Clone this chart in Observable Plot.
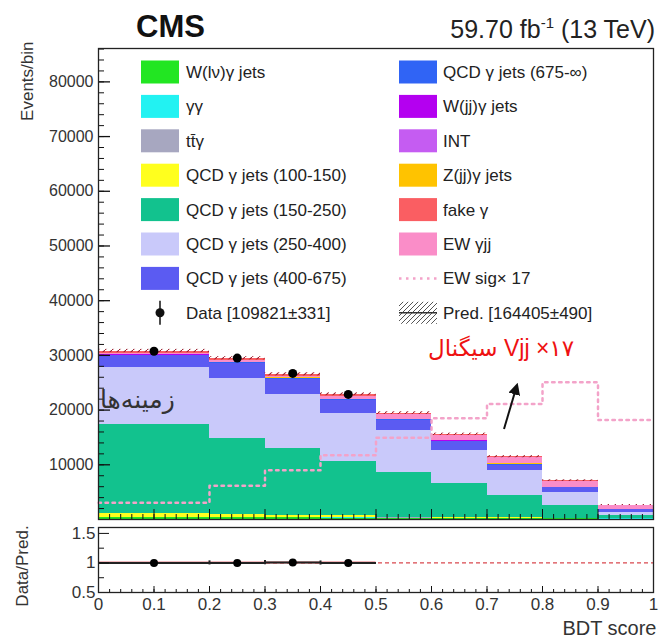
<!DOCTYPE html>
<html><head><meta charset="utf-8">
<script src="https://cdn.jsdelivr.net/npm/d3@7"></script>
<script src="https://cdn.jsdelivr.net/npm/@observablehq/plot@0.6"></script>
<style>
body{margin:0;background:#fff;}
#wrap{position:relative;width:659px;height:643px;overflow:hidden;background:#fff;}
#wrap > svg, #wrap > figure{position:absolute;left:0;margin:0;}
</style></head><body><div id="wrap"></div>
<script>
// ---------- data ----------
const binEdges = [0, 0.2, 0.3, 0.4, 0.5, 0.6, 0.7, 0.8, 0.9, 1.0];
const wlnu   = [350, 300, 280, 250, 230, 200, 170, 130, 80];
const gg     = [40, 40, 40, 30, 30, 30, 30, 20, 100];
const ttg    = [50, 50, 45, 40, 35, 30, 25, 20, 15];
const qcd100 = [600, 550, 450, 400, 120, 100, 80, 60, 30];
const qcd150 = [16240, 13900, 12075, 9920, 8145, 6260, 4045, 2290, 450];
const qcd250 = [10470, 10850, 10050, 8770, 7800, 5960, 4520, 2380, 600];
const qcd400 = [2140, 2860, 2690, 2310, 1700, 1640, 1090, 860, 500];
const qcd675 = [150, 150, 150, 150, 150, 130, 120, 100, 80];
const wjj    = [40, 40, 40, 40, 40, 30, 30, 20, 10];
const intf   = [20, 20, 20, 20, 20, 20, 20, 20, 10];
const zjj    = [30, 30, 30, 30, 30, 20, 20, 20, 10];
const ewk    = [170, 260, 340, 610, 850, 900, 1130, 1100, 700];
const fake   = [500, 420, 330, 320, 300, 250, 200, 80, 60];
const predErr = [300, 290, 280, 260, 240, 220, 190, 150, 90];
const sigX17 = [3070, 6180, 9000, 11740, 14960, 18500, 21100, 25080, 18190];
const dataX = [0.1, 0.25, 0.35, 0.45];
const dataY = [30750, 29500, 26700, 22870];
const dataBin = [0, 1, 2, 3];
const yTicks = [10000, 20000, 30000, 40000, 50000, 60000, 70000, 80000];
const ratioTicks = [0.5, 1, 1.5];

const names = ["W(lν)γ jets", "γγ", "tt\u0304γ", "QCD γ jets (100-150)", "QCD γ jets (150-250)",
  "QCD γ jets (250-400)", "QCD γ jets (400-675)", "QCD γ jets (675-∞)", "W(jj)γ jets", "INT",
  "Z(jj)γ jets", "EW γjj", "fake γ"];
const colors = ["#22e622", "#22f2f2", "#a7a7c0", "#ffff1e", "#12c28e", "#c9c9fa", "#5b5bf2",
  "#3064f5", "#b400f0", "#c55cf2", "#ffc300", "#fa8dc8", "#fa5e62"];
const values = [wlnu, gg, ttg, qcd100, qcd150, qcd250, qcd400, qcd675, wjj, intf, zjj, ewk, fake];

// ---------- tables ----------
const stackRows = [];
names.forEach((n, k) => values[k].forEach((v, i) =>
  stackRows.push({series: n, x1: binEdges[i], x2: binEdges[i + 1], v})));
const totRows = binEdges.slice(0, -1).map((x1, i) => ({
  x1, x2: binEdges[i + 1], t: d3.sum(values, arr => arr[i]), e: predErr[i]}));
const sigSteps = sigX17.map((y, i) => ({x: binEdges[i], y})).concat([{x: 1, y: sigX17[sigX17.length - 1]}]);
const dataRows = dataX.map((x, i) => ({x, y: dataY[i], b: dataBin[i],
  x1: binEdges[dataBin[i]], x2: binEdges[dataBin[i] + 1],
  r: dataY[i] / totRows[dataBin[i]].t, re: predErr[dataBin[i]] / totRows[dataBin[i]].t}));

const W = 659, font = "'Liberation Sans', Arial, sans-serif";
const mL = 98, mR = 6;
const plotW = W - mL - mR;
const mainH = 524, mT = 48, mB = 5;
const plotH = mainH - mT - mB;

const main = Plot.plot({
  width: W, height: mainH, marginTop: mT, marginBottom: mB, marginLeft: mL, marginRight: mR,
  x: {domain: [0, 1], axis: null}, y: {domain: [0, 86100]},
  color: {domain: names, range: colors},
  style: {fontFamily: font, fontSize: "16px", color: "#333", background: "transparent"},
  marks: [
    Plot.rectY(stackRows, {x1: "x1", x2: "x2", y: "v", fill: "series", z: "series", order: names, shapeRendering: "crispEdges"}),
    Plot.rect(totRows, {x1: "x1", x2: "x2", y1: d => d.t - d.e, y2: d => d.t + d.e, fill: "url(#hatchRed)"}),
    Plot.line(sigSteps, {x: "x", y: "y", curve: "step-after", stroke: "#f3a3c9", strokeWidth: 2.5, strokeDasharray: "2.5,4.5"}),
    Plot.ruleX(dataRows, {x: "x", y1: d => d.y - Math.sqrt(d.y), y2: d => d.y + Math.sqrt(d.y), stroke: "black", strokeWidth: 1.5}),
    Plot.dot(dataRows, {x: "x", y: "y", r: 4.5, fill: "black"}),
    Plot.gridY({ticks: d3.range(0, 86001, 2000), stroke: "#111", strokeOpacity: 1, insetRight: plotW - 6}),
    Plot.gridY({ticks: yTicks, stroke: "#111", strokeOpacity: 1, strokeWidth: 1.3, insetRight: plotW - 12}),
    Plot.gridX({ticks: d3.range(0, 1.0001, 0.02), stroke: "#111", strokeOpacity: 1, insetTop: plotH - 5}),
    Plot.gridX({ticks: d3.range(0, 1.0001, 0.1), stroke: "#111", strokeOpacity: 1, insetTop: plotH - 10}),
    Plot.axisY({ticks: yTicks, tickSize: 0, tickPadding: 5, tickFormat: d3.format("d"), label: null, fontSize: 16}),
    Plot.frame({stroke: "#222", strokeWidth: 1.3}),
    Plot.text(["Events/bin"], {text: d => d, frameAnchor: "top-left", rotate: -90, textAnchor: "end", dx: -78, dy: -7, fontSize: 17, fill: "#333"})
  ]
});

const rH = 119, rT = 3, rB = 51;
const rPlotH = rH - rT - rB;
const ratio = Plot.plot({
  width: W, height: rH, marginTop: rT, marginBottom: rB, marginLeft: mL, marginRight: mR,
  x: {domain: [0, 1]}, y: {domain: [0.5, 1.6]},
  style: {fontFamily: font, fontSize: "17px", color: "#333", background: "transparent"},
  marks: [
    Plot.ruleY([1], {stroke: "#d9484f", strokeDasharray: "4,3", strokeWidth: 1.3}),
    Plot.rect(dataRows, {x1: "x1", x2: "x2", y1: d => 1 - d.re - 0.012, y2: d => 1 + d.re + 0.012, fill: "#d9484f", fillOpacity: 0.45}),
    Plot.link(dataRows, {x1: "x1", x2: "x2", y1: "r", y2: "r", stroke: "#222", strokeWidth: 2}),
    Plot.ruleX(dataRows.slice(1), {x: "x1", y1: d => d.r - 0.035, y2: d => d.r + 0.035, stroke: "#222", strokeWidth: 2}),
    Plot.dot(dataRows, {x: "x", y: "r", r: 4, fill: "black"}),
    Plot.gridY({ticks: [0.75, 1.25], stroke: "#111", strokeOpacity: 1, insetRight: plotW - 6}),
    Plot.gridY({ticks: ratioTicks, stroke: "#111", strokeOpacity: 1, insetRight: plotW - 11}),
    Plot.gridX({ticks: d3.range(0, 1.0001, 0.02), stroke: "#111", strokeOpacity: 1, insetTop: rPlotH - 3}),
    Plot.gridX({ticks: d3.range(0, 1.0001, 0.1), stroke: "#111", strokeOpacity: 1, insetTop: rPlotH - 6}),
    Plot.axisY({ticks: ratioTicks, tickSize: 0, tickPadding: 3, tickFormat: d => String(d), label: null, fontSize: 17}),
    Plot.axisX({ticks: d3.range(0, 1.0001, 0.1), tickSize: 0, tickPadding: 5, tickFormat: d => String(+d.toFixed(1)), label: null, fontSize: 17}),
    Plot.frame({stroke: "#222", strokeWidth: 1.3}),
    Plot.text(["Data/Pred."], {text: d => d, frameAnchor: "left", rotate: -90, textAnchor: "middle", dx: -76, dy: 6, fontSize: 17, fill: "#333"}),
    Plot.text(["BDT score"], {text: d => d, frameAnchor: "bottom-right", textAnchor: "end", dx: 3, dy: 42, fontSize: 20, fill: "#333"})
  ]
});

const wrap = document.getElementById("wrap");
function svgOf(n) { return n.tagName.toLowerCase() === "svg" ? n : n.querySelector("svg"); }
main.style.top = "0px";
ratio.style.top = "524px";
wrap.appendChild(main);
wrap.appendChild(ratio);
svgOf(main).insertAdjacentHTML("afterbegin",
  `<defs><pattern id="hatchRed" patternUnits="userSpaceOnUse" width="7" height="7">
     <path d="M0,7 L7,0" stroke="#9a1b2a" stroke-width="1.1"/></pattern></defs>`);

// ---------- legend, header, annotations (overlay) ----------
const leftCol = [
  {label: names[0], color: colors[0]}, {label: names[1], color: colors[1]},
  {label: names[2], color: colors[2]}, {label: names[3], color: colors[3]},
  {label: names[4], color: colors[4]}, {label: names[5], color: colors[5]},
  {label: names[6], color: colors[6]}, {label: "Data [109821±331]", kind: "data"}];
const rightCol = [
  {label: names[7], color: colors[7]}, {label: names[8], color: colors[8]},
  {label: names[9], color: colors[9]}, {label: names[10], color: colors[10]},
  {label: names[12], color: colors[12]}, {label: names[11], color: colors[11]},
  {label: "EW sig\u00d7 17", kind: "sig"}, {label: "Pred. [164405±490]", kind: "pred"}];

const NS = "http://www.w3.org/2000/svg";
let ov = `<svg xmlns="${NS}" width="659" height="643" style="position:absolute;left:0;top:0;pointer-events:none" font-family="${font.replace(/'/g, "")}">
<defs>
 <pattern id="hatchGray" patternUnits="userSpaceOnUse" width="5" height="5"><path d="M0,5 L5,0 M-1,1 L1,-1 M4,6 L6,4" stroke="#555" stroke-width="1"/></pattern>
 <marker id="arr" viewBox="0 0 10 10" refX="8" refY="5" markerWidth="6" markerHeight="6" orient="auto"><path d="M0,0 L10,5 L0,10 z" fill="#111"/></marker>
</defs>`;
function entry(e, sx, tx, cy) {
  let s = "";
  if (e.kind === "data") {
    s += `<line x1="${sx + 19}" x2="${sx + 19}" y1="${cy - 12}" y2="${cy + 12}" stroke="#111" stroke-width="1.5"/>`;
    s += `<circle cx="${sx + 19}" cy="${cy}" r="4.5" fill="#111"/>`;
  } else if (e.kind === "sig") {
    s += `<line x1="${sx}" x2="${sx + 38}" y1="${cy}" y2="${cy}" stroke="#f3a3c9" stroke-width="2.5" stroke-dasharray="2.5,4.5"/>`;
  } else if (e.kind === "pred") {
    s += `<rect x="${sx}" y="${cy - 11}" width="38" height="22" fill="url(#hatchGray)"/>`;
    s += `<line x1="${sx}" x2="${sx + 38}" y1="${cy}" y2="${cy}" stroke="#333" stroke-width="1.5"/>`;
  } else {
    s += `<rect x="${sx}" y="${cy - 11.5}" width="38" height="23" fill="${e.color}"/>`;
  }
  s += `<text x="${tx}" y="${cy}" dy="0.35em" font-size="17" fill="#222">${e.label}</text>`;
  return s;
}
leftCol.forEach((e, i) => ov += entry(e, 141, 186, 72 + i * 34.4));
rightCol.forEach((e, i) => ov += entry(e, 399, 443, 72 + i * 34.4));
ov += `<text x="136" y="37" font-size="31" font-weight="bold" fill="#111">CMS</text>`;
ov += `<text x="655" y="38" text-anchor="end" font-size="25" fill="#222">59.70 fb<tspan dy="-10" font-size="15">-1</tspan><tspan dy="10"> (13 TeV)</tspan></text>`;
ov += `<text x="100" y="399" dy="0.35em" font-size="25" fill="#333" font-family="DejaVu Sans, sans-serif">زمینه‌ها</text>`;
ov += `<text x="428" y="348" dy="0.35em" font-size="23" fill="#ee1111" font-family="Liberation Sans, DejaVu Sans, sans-serif">سیگنال Vjj ×۱۷</text>`;
ov += `<line x1="504" y1="429" x2="517" y2="385" stroke="#111" stroke-width="2" marker-end="url(#arr)"/>`;
ov += `</svg>`;
wrap.insertAdjacentHTML("beforeend", ov);
</script></body></html>
